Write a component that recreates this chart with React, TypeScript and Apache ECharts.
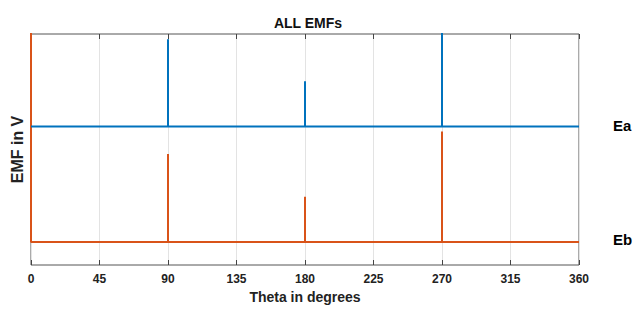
import React, { useEffect, useRef } from "react";
import * as echarts from "echarts";

// Theta in degrees
const thetaTicks = [0, 45, 90, 135, 180, 225, 270, 315, 360];
// Spike positions (degrees) and spike heights (V, relative to baseline)
const spikeAngles = [90, 180, 270];
const eaSpikes = [3.77, 1.95, 4.6];
const ebSpikes = [3.8, 1.95, 4.78];
const ebStartSpike = 9.6; // spike at theta = 0 for Eb
// Vertical offsets used to stack the traces
const eaOffset = 6.0;
const ebOffset = 1.0;
const yMin = 0;
const yMax = 10;

function buildTrace(offset: number, spikes: number[], startSpike: number | null) {
  const pts: number[][] = [];
  if (startSpike !== null) {
    pts.push([0, offset + startSpike]);
  }
  pts.push([0, offset]);
  spikeAngles.forEach((a, i) => {
    pts.push([a, offset]);
    pts.push([a, offset + spikes[i]]);
    pts.push([a, offset]);
  });
  pts.push([360, offset]);
  return pts;
}

const eaData = buildTrace(eaOffset, eaSpikes, null);
const ebData = buildTrace(ebOffset, ebSpikes, ebStartSpike);

const narrow = "'Liberation Sans Narrow', 'Arial Narrow', 'Liberation Sans', Arial, sans-serif";
const sans = "'Liberation Sans', Arial, sans-serif";

export default function App() {
  const ref = useRef<HTMLDivElement>(null);
  useEffect(() => {
    if (!ref.current) return;
    const chart = echarts.init(ref.current, null, { renderer: "svg" });
    const baseX = {
      type: "value" as const,
      min: 0,
      max: 360,
      interval: 45,
    };
    chart.setOption({
      animation: false,
      backgroundColor: "#ffffff",
      title: {
        text: "ALL EMFs",
        left: 303,
        top: 11,
        textAlign: "center",
        textStyle: { fontFamily: narrow, fontSize: 14, fontWeight: "bold", color: "#111" },
      },
      grid: {
        left: 31,
        right: 59,
        top: 34,
        bottom: 46,
        show: true,
        borderColor: "#555",
        borderWidth: 1,
        backgroundColor: "#fff",
      },
      xAxis: [
        {
          ...baseX,
          position: "bottom",
          name: "Theta in degrees",
          nameLocation: "middle",
          nameGap: 25,
          nameTextStyle: { fontFamily: narrow, fontSize: 14, fontWeight: "bold", color: "#222" },
          axisLine: { show: false },
          axisTick: { show: true, inside: true, length: 5, lineStyle: { color: "#444" } },
          axisLabel: {
            fontFamily: narrow,
            fontSize: 12,
            fontWeight: "bold",
            color: "#222",
            margin: 8,
            customValues: thetaTicks,
          },
          splitLine: { show: true, lineStyle: { color: "#e3e3e3", width: 1 } },
        },
        {
          ...baseX,
          position: "top",
          axisLine: { show: false },
          axisTick: { show: true, inside: true, length: 5, lineStyle: { color: "#444" } },
          axisLabel: { show: false },
          splitLine: { show: false },
        },
      ],
      yAxis: {
        type: "value",
        min: yMin,
        max: yMax,
        name: "EMF in V",
        nameLocation: "middle",
        nameGap: 6,
        nameTextStyle: { fontFamily: sans, fontSize: 16, fontWeight: "bold", color: "#222" },
        axisLine: { show: false },
        axisTick: { show: false },
        axisLabel: { show: false },
        splitLine: { show: false },
      },
      series: [
        {
          name: "Eb",
          type: "line",
          data: ebData,
          showSymbol: false,
          clip: true,
          lineStyle: { color: "#D95319", width: 2 },
          itemStyle: { color: "#D95319" },
          z: 2,
        },
        {
          name: "Ea",
          type: "line",
          data: eaData,
          showSymbol: false,
          clip: true,
          lineStyle: { color: "#0072BD", width: 2 },
          itemStyle: { color: "#0072BD" },
          z: 3,
        },
      ],
      graphic: [
        {
          type: "text",
          left: 613,
          top: 118,
          style: { text: "Ea", fontFamily: sans, fontSize: 15, fontWeight: "bold", fill: "#000" },
        },
        {
          type: "text",
          left: 613,
          top: 232,
          style: { text: "Eb", fontFamily: sans, fontSize: 15, fontWeight: "bold", fill: "#000" },
        },
      ],
    });
    return () => chart.dispose();
  }, []);
  return <div ref={ref} style={{ width: 638, height: 311, position: "absolute", left: 0, top: 0 }} />;
}
